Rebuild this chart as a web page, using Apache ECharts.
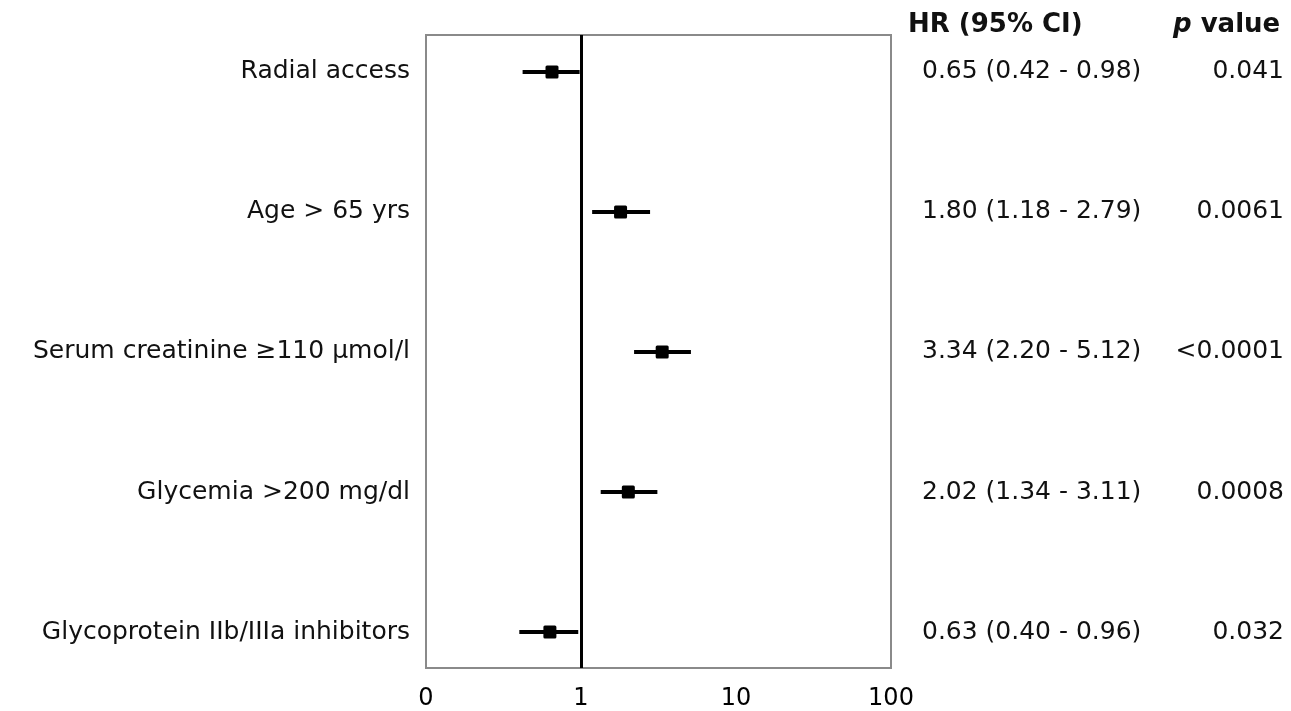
<!DOCTYPE html>
<html>
<head>
<meta charset="utf-8">
<script src="https://cdn.jsdelivr.net/npm/echarts@6/dist/echarts.min.js"></script>
<style>
  html, body { margin: 0; padding: 0; background: #fff; }
  #main { width: 1291px; height: 711px; }
</style>
</head>
<body>
<div id="main"></div>
<script>
// forest plot: hazard ratios with 95% CI
const labels = [
  'Radial access',
  'Age > 65 yrs',
  'Serum creatinine \u2265110 \u03bcmol/l',
  'Glycemia >200 mg/dl',
  'Glycoprotein IIb/IIIa inhibitors'
];
const hr = [0.65, 1.80, 3.34, 2.02, 0.63];
const ciLow = [0.42, 1.18, 2.20, 1.34, 0.40];
const ciHigh = [0.98, 2.79, 5.12, 3.11, 0.96];
const pValues = ['0.041', '0.0061', '<0.0001', '0.0008', '0.032'];
const xTicks = [0.1, 1, 10, 100];

const FONT = 'DejaVu Sans';

const chart = echarts.init(document.getElementById('main'));

const rows = labels.map((name, i) => [i, ciLow[i], ciHigh[i], hr[i]]);

chart.setOption({
  animation: false,
  backgroundColor: '#fff',
  grid: {
    left: 426, right: 400, top: 35, bottom: 43,
    show: true,
    borderColor: '#8a8a8a',
    borderWidth: 2,
    backgroundColor: 'transparent'
  },
  xAxis: {
    type: 'log',
    logBase: 10,
    min: xTicks[0],
    max: xTicks[xTicks.length - 1],
    axisLine: { show: false },
    axisTick: { show: false },
    splitLine: { show: false },
    axisLabel: {
      margin: 19,
      fontFamily: FONT,
      fontSize: 24,
      color: '#000',
      formatter: v => (v < 1 ? '0' : String(Math.round(v)))
    }
  },
  yAxis: {
    type: 'value',
    inverse: true,
    min: -0.264,
    max: 4.257,
    show: false
  },
  graphic: [
    {
      type: 'text', left: 908, top: 12,
      style: { text: 'HR (95% CI)', font: 'bold 26px "DejaVu Sans"', fill: '#111' }
    },
    {
      type: 'text', left: 1173, top: 12,
      style: {
        text: '{i|p} value',
        font: 'bold 26px "DejaVu Sans"',
        fill: '#111',
        rich: {
          i: { fontStyle: 'italic', fontWeight: 'bold', fontSize: 26, fontFamily: FONT, fill: '#111' }
        }
      }
    }
  ],
  series: [
    {
      type: 'custom',
      clip: false,
      encode: { x: [1, 2, 3], y: 0 },
      data: rows,
      renderItem(params, api) {
        const i = api.value(0);
        const a = api.coord([api.value(1), i]);
        const b = api.coord([api.value(2), i]);
        const c = api.coord([api.value(3), i]);
        const left = api.coord([xTicks[0], i]);
        const right = api.coord([xTicks[xTicks.length - 1], i]);
        const textStyle = { font: '25px "DejaVu Sans"', fill: '#111', verticalAlign: 'middle' };
        return {
          type: 'group',
          children: [
            {
              type: 'line',
              shape: { x1: a[0], y1: a[1], x2: b[0], y2: b[1] },
              style: { stroke: '#000', lineWidth: 4 }
            },
            {
              type: 'rect',
              shape: { x: c[0] - 6.5, y: c[1] - 6.5, width: 13, height: 13, r: 1.5 },
              style: { fill: '#000' }
            },
            {
              type: 'text',
              style: Object.assign({ text: labels[i], x: left[0] - 16, y: left[1], align: 'right' }, textStyle)
            },
            {
              type: 'text',
              style: Object.assign({
                text: hr[i].toFixed(2) + ' (' + ciLow[i].toFixed(2) + ' - ' + ciHigh[i].toFixed(2) + ')',
                x: right[0] + 31, y: right[1], align: 'left'
              }, textStyle)
            },
            {
              type: 'text',
              style: Object.assign({ text: pValues[i], x: right[0] + 393, y: right[1], align: 'right' }, textStyle)
            }
          ]
        };
      },
      markLine: {
        silent: true,
        symbol: 'none',
        label: { show: false },
        lineStyle: { color: '#000', width: 3, type: 'solid' },
        data: [{ xAxis: 1 }]
      }
    }
  ]
});
</script>
</body>
</html>
